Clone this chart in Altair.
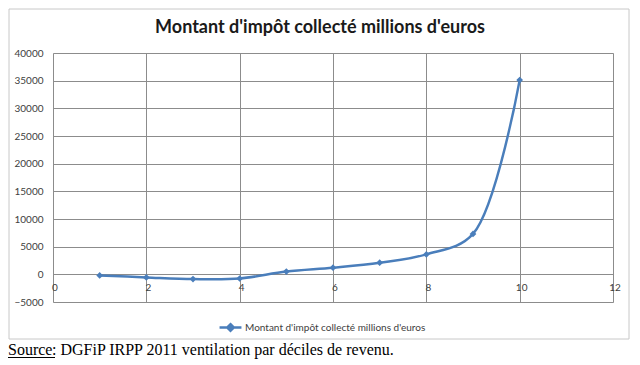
import altair as alt
import pandas as pd

deciles = [1, 2, 3, 4, 5, 6, 7, 8, 9, 10]
impot = [-200, -550, -850, -750, 500, 1200, 2100, 3600, 7300, 35100]
series_name = "Montant d'impôt collecté millions d'euros"
title_text = "Montant d'impôt collecté millions d'euros"
x_ticks = [0, 2, 4, 6, 8, 10, 12]
y_ticks = [-5000, 0, 5000, 10000, 15000, 20000, 25000, 30000, 35000, 40000]
source_label = "Source"
source_rest = " : DGFiP IRPP 2011 ventilation par déciles de revenu."

BLUE = "#4a7ebb"
GRID = "#8c8c8c"
TXT = "#404040"

df = pd.DataFrame({"decile": deciles, "impot": impot, "serie": [series_name] * len(deciles)})
xt = pd.DataFrame({"x": x_ticks, "lab": [str(v) for v in x_ticks]})

xscale = alt.Scale(domain=[0, 12], nice=False, zero=False)
yscale = alt.Scale(domain=[-5000, 40000], nice=False, zero=False)

xaxis = alt.Axis(values=x_ticks, labels=False, ticks=False, domain=False, grid=True,
                 gridColor=GRID, gridWidth=1, title=None)
yaxis = alt.Axis(values=y_ticks, ticks=False, domain=False, grid=True, gridColor=GRID,
                 gridWidth=1, title=None, labelFont="Lato", labelFontSize=10, format="d",
                 labelOverlap=False, labelColor=TXT, labelPadding=10)

legend = alt.Legend(
    title=None, orient="none", legendX=165, legendY=262,
    symbolType="M-1,0H1M0,-0.3L0.3,0L0,0.3L-0.3,0Z",
    symbolSize=480, symbolStrokeWidth=2.5, symbolStrokeColor=BLUE, symbolFillColor=BLUE,
    labelFont="Lato", labelFontSize=10, labelColor=TXT, labelLimit=400, labelOffset=2,
)

base = alt.Chart(df)

line = base.mark_line(interpolate="catmull-rom", strokeWidth=2.5).encode(
    x=alt.X("decile:Q", scale=xscale, axis=xaxis),
    y=alt.Y("impot:Q", scale=yscale, axis=yaxis),
    color=alt.Color("serie:N", scale=alt.Scale(range=[BLUE]), legend=legend),
)

pts = base.mark_point(shape="diamond", filled=True, size=45, opacity=1).encode(
    x=alt.X("decile:Q", scale=xscale, axis=xaxis),
    y=alt.Y("impot:Q", scale=yscale, axis=yaxis),
    color=alt.Color("serie:N", scale=alt.Scale(range=[BLUE]), legend=legend),
)

xlabels = alt.Chart(xt).mark_text(font="Lato", fontSize=10, color=TXT, dy=14, dx=2).encode(
    x=alt.X("x:Q", scale=xscale, axis=xaxis),
    y=alt.datum(0, scale=yscale, axis=yaxis),
    text="lab:N",
)

frame = alt.Chart(pd.DataFrame({"a": [0]})).mark_rect(fill=None, stroke="#c8c8c8", strokeWidth=1).encode(
    x=alt.value(-44), x2=alt.value(576), y=alt.value(-44), y2=alt.value(286)
)

title = alt.Chart(pd.DataFrame({"t": [title_text]})).mark_text(
    font="Lato", fontSize=18, fontWeight="bold", color="#1a1a1a", baseline="middle"
).encode(x=alt.value(267), y=alt.value(-25), text="t:N")

src1 = alt.Chart(pd.DataFrame({"t": [source_label]})).mark_text(
    font="Liberation Serif", fontSize=16, color="black", align="left", baseline="alphabetic"
).encode(x=alt.value(-45), y=alt.value(302), text="t:N")

src2 = alt.Chart(pd.DataFrame({"t": [source_rest]})).mark_text(
    font="Liberation Serif", fontSize=16, color="black", align="left", baseline="alphabetic"
).encode(x=alt.value(-1), y=alt.value(302), text="t:N")

underline = alt.Chart(pd.DataFrame({"a": [0]})).mark_rule(color="black", strokeWidth=1).encode(
    x=alt.value(-45), x2=alt.value(2), y=alt.value(304.5)
)

chart = alt.layer(frame, line, pts, xlabels, title, src1, src2, underline).properties(
    width=560, height=249,
    autosize=alt.AutoSizeParams(type="none"),
    padding={"left": 45, "top": 45, "right": 19, "bottom": 60},
).configure_view(stroke=None).configure(background="white")

chart.save("out.html", embed_options={"renderer": "svg", "actions": False})
